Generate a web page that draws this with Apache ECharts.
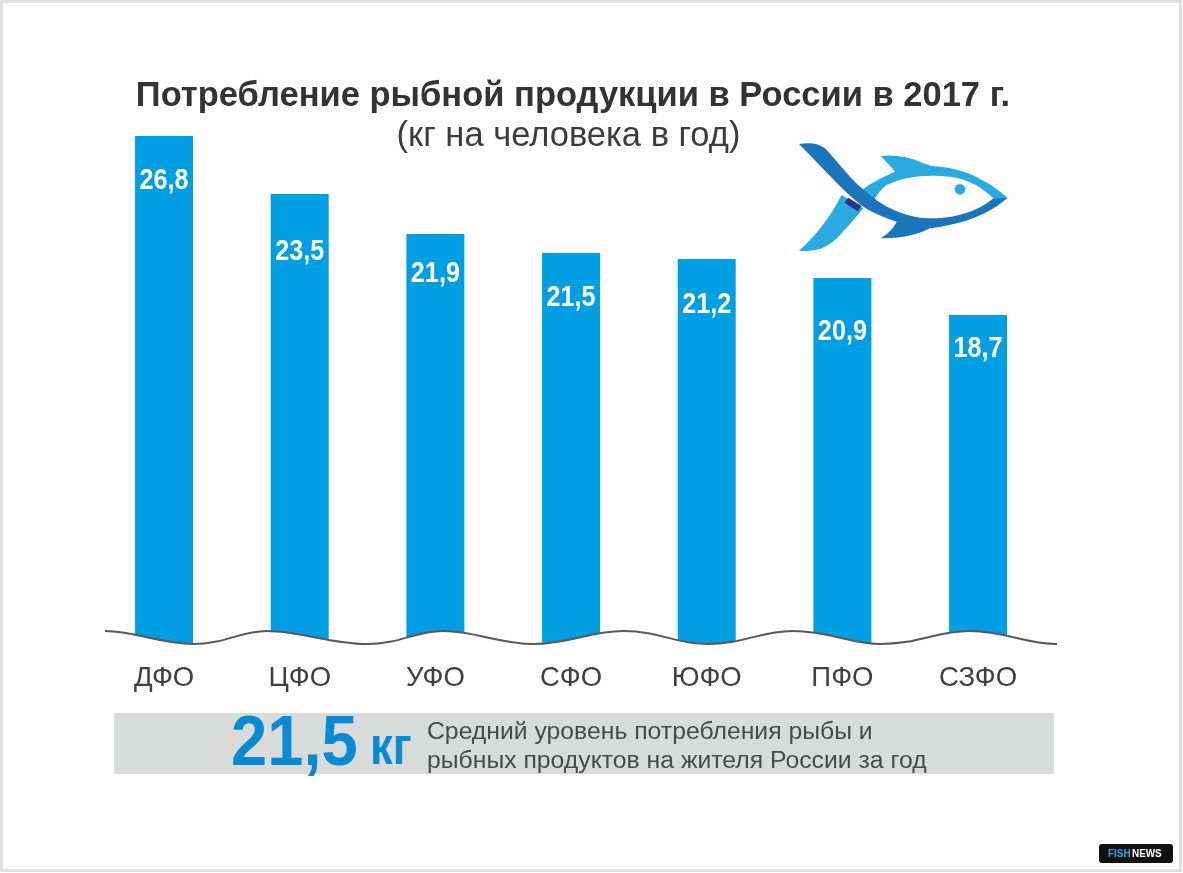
<!DOCTYPE html>
<html><head><meta charset="utf-8">
<script src="https://cdn.jsdelivr.net/npm/echarts@6/dist/echarts.min.js"></script>
<style>html,body{margin:0;padding:0;background:#fff}#c{width:1183px;height:873px}</style>
</head><body><div id="c"></div>
<script>
const categories = ['ДФО','ЦФО','УФО','СФО','ЮФО','ПФО','СЗФО'];
// printed values
const printedValues = ['26,8','23,5','21,9','21,5','21,2','20,9','18,7'];
// bar heights as drawn in the picture (the original's bars are not strictly proportional to the printed values)
const drawnHeights = [26.84,23.79,21.68,20.68,20.37,19.37,17.42];
const labelDrop = [45,58,40,45,46,54,34];

const SANS = '"Liberation Sans", Arial, sans-serif';
const wave = 'M105,631 C135,631 160,644 193,644 C225,644 240,631 267,631 C300,631 330,644 367,644 C400,644 415,631 443,631 C475,631 500,644 533,644 C570,644 590,631 623,631 C660,631 675,644 707,644 C745,644 760,631 793,631 C830,631 850,644 880,644 C920,644 935,631 970,631 C1005,631 1025,644 1057,644';
const fishLight = 'M240,185 C270,160 300,145 345,125 C335,112 315,92 302,78 C340,72 390,82 420,95 C440,105 455,108 480,110 C560,118 620,150 683,203 L640,205 C610,175 570,148 510,140 C440,132 370,140 320,165 C305,175 295,190 285,205 L300,235 Z M185,195 L250,235 C225,265 200,295 180,315 C150,350 110,368 57,362 C100,325 150,265 185,195 Z';
const fishDark = 'M57,42 C95,36 125,42 145,65 C180,105 215,150 250,178 C290,215 340,250 420,263 C500,272 590,250 640,205 L683,203 C630,250 560,280 450,295 C425,310 370,326 302,325 C325,310 340,295 350,275 C310,262 270,245 243,225 C185,180 125,110 57,42 Z';
const fishBand = 'M205,203 L245,228 L233,244 L193,218 Z';
const fishParts = () => [
  {type:'path',shape:{pathData:fishLight},style:{fill:'#29abe2'}},
  {type:'path',shape:{pathData:fishDark},style:{fill:'#1b75bb'}},
  {type:'path',shape:{pathData:fishBand},style:{fill:'#2e3192'}},
  {type:'circle',shape:{cx:540,cy:178,r:16},style:{fill:'#29abe2'}}
];

const chart = echarts.init(document.getElementById('c'), null, {renderer:'canvas'});
chart.setOption({
  animation:false,
  backgroundColor:'#ffffff',
  title:[
    {text:'Потребление рыбной продукции в России в 2017 г.',left:568,top:74,textAlign:'center',
     textStyle:{fontFamily:SANS,fontSize:34.5,fontWeight:'bold',color:'#333333'}},
    {text:'(кг на человека в год)',left:563.5,top:114,textAlign:'center',
     textStyle:{fontFamily:SANS,fontSize:34.5,fontWeight:'normal',color:'#3c3c3c'}}
  ],
  grid:{left:96.2,width:949.7,top:76,height:570},
  xAxis:{type:'category',data:categories,axisLine:{show:false},axisTick:{show:false},
    axisLabel:{interval:0,margin:18,fontFamily:SANS,fontSize:27.5,color:'#404040'}},
  yAxis:{type:'value',min:0,max:30,show:false,splitLine:{show:false}},
  series:[
    {type:'bar',data:drawnHeights,barWidth:58,itemStyle:{color:'#009fe3'},z:2},
    {type:'custom',coordinateSystem:'cartesian2d',z:5,silent:true,
     data:drawnHeights.map((h,i)=>[i,h]),encode:{x:0,y:1},
     renderItem:(params,api)=>{
       const p=api.coord([api.value(0),api.value(1)]);
       return {type:'text',x:p[0],y:p[1]+labelDrop[params.dataIndex],scaleX:0.84,
         style:{text:printedValues[params.dataIndex],fontFamily:SANS,fontWeight:'bold',fontSize:30,fill:'#ffffff',align:'center',verticalAlign:'middle'}};
     }},
    {type:'custom',coordinateSystem:'none',data:[[0]],z:10,silent:true,
     renderItem:()=>({type:'group',children:[
       {type:'path',shape:{pathData:wave+' L1057,652 L105,652 Z'},style:{fill:'#ffffff',stroke:null}},
       {type:'path',shape:{pathData:wave},style:{fill:null,stroke:'#58595b',lineWidth:2}},
       {type:'group',x:780,y:130,scaleX:1/3,scaleY:1/3,children:fishParts()}
     ]})}
  ],
  graphic:[
    {type:'rect',z:50,shape:{x:1.5,y:1.5,width:1179,height:869},style:{fill:'none',stroke:'#e0e0e0',lineWidth:3}},
    {type:'rect',z:50,shape:{x:114,y:713,width:940,height:61},style:{fill:'#d9dada'}},
    {type:'text',z:51,x:231,y:745.5,scaleX:0.93,style:{text:'21,5',fontFamily:SANS,fontWeight:'bold',fontSize:70,fill:'#0a8ad2',textVerticalAlign:'middle'}},
    {type:'text',z:51,x:370,y:749,scaleX:0.84,style:{text:'кг',fontFamily:SANS,fontWeight:'bold',fontSize:54,fill:'#0a8ad2',textVerticalAlign:'middle'}},
    {type:'text',z:51,x:427,y:732,style:{text:'Средний уровень потребления рыбы и',fontFamily:SANS,fontSize:24.75,fill:'#4a4a4a',textVerticalAlign:'middle'}},
    {type:'text',z:51,x:427,y:761,style:{text:'рыбных продуктов на жителя России за год',fontFamily:SANS,fontSize:24.75,fill:'#4a4a4a',textVerticalAlign:'middle'}},
    {type:'rect',z:50,shape:{x:1099,y:844,width:74,height:19,r:3},style:{fill:'#111111'}},
    {type:'text',z:51,x:1108,y:853.5,scaleX:0.9,style:{text:'FISH',fontFamily:SANS,fontWeight:'bold',fontSize:11,fill:'#2aa7dc',textVerticalAlign:'middle'}},
    {type:'text',z:51,x:1132,y:853.5,scaleX:0.9,style:{text:'NEWS',fontFamily:SANS,fontWeight:'bold',fontSize:11,fill:'#ffffff',textVerticalAlign:'middle'}}
  ]
});
</script></body></html>
